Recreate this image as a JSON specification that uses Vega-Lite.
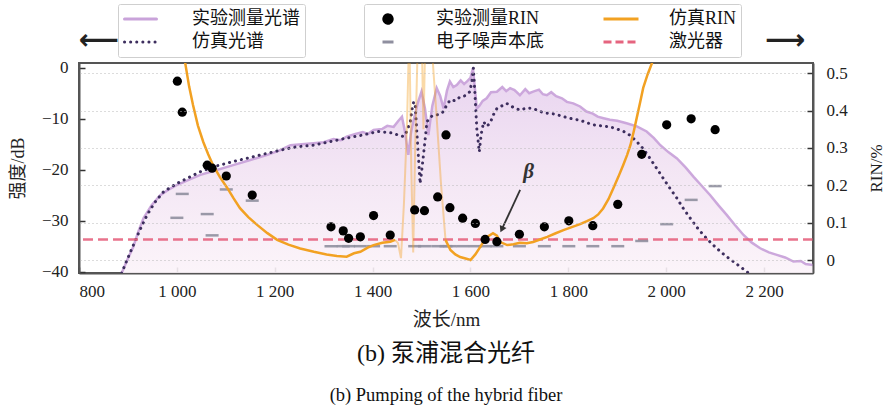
{
"$schema": "https://vega.github.io/schema/vega-lite/v6.json",
"width": 734, "height": 210,
"autosize": {"type": "none"},
"padding": {"left": 79, "top": 63, "right": 75, "bottom": 144},
"background": "white",
"config": {
  "font": "Liberation Serif, Noto Sans CJK SC",
  "view": {"stroke": "#555555", "strokeWidth": 2},
  "axis": {"labelFont": "Liberation Serif", "labelFontSize": 17, "labelColor": "#222", "titleFont": "Liberation Serif, Noto Sans CJK SC", "titleFontWeight": "normal", "titleColor": "#222", "domainColor": "#555", "domainWidth": 2, "tickColor": "#333", "tickWidth": 1.5, "tickSize": -6, "grid": false}
},
"title": {"text": "(b) 泵浦混合光纤", "subtitle": "(b) Pumping of the hybrid fiber", "orient": "bottom", "anchor": "middle", "font": "Liberation Serif, Noto Sans CJK SC", "fontSize": 24, "fontWeight": "normal", "color": "#111", "subtitleFont": "Liberation Serif", "subtitleFontSize": 18.5, "subtitleColor": "#111", "offset": 13, "subtitlePadding": 20},
"datasets": {
  "spec": [
    {"nm":887,"db":-40.3},{"nm":899,"db":-37.6},{"nm":911,"db":-35.1},{"nm":921,"db":-32.2},{"nm":932,"db":-29.5},{"nm":948,"db":-27.0},{"nm":966,"db":-25.0},{"nm":983,"db":-23.9},{"nm":1000,"db":-23.0},{"nm":1024,"db":-22.0},{"nm":1048,"db":-21.0},{"nm":1080,"db":-20.1},{"nm":1115,"db":-19.1},{"nm":1150,"db":-18.1},{"nm":1185,"db":-17.1},{"nm":1210,"db":-16.2},{"nm":1232,"db":-15.2},{"nm":1255,"db":-15.0},{"nm":1279,"db":-14.8},{"nm":1300,"db":-14.6},{"nm":1320,"db":-14.0},{"nm":1335,"db":-14.2},{"nm":1347,"db":-13.5},{"nm":1365,"db":-13.0},{"nm":1380,"db":-12.6},{"nm":1390,"db":-13.0},{"nm":1402,"db":-12.2},{"nm":1420,"db":-12.0},{"nm":1430,"db":-11.4},{"nm":1443,"db":-11.6},{"nm":1452,"db":-10.5},{"nm":1460,"db":-9.6},{"nm":1466,"db":-12.5},{"nm":1473,"db":-17.1},{"nm":1478,"db":-13.0},{"nm":1483,"db":-10.6},{"nm":1492,"db":-7.0},{"nm":1500,"db":-4.7},{"nm":1507,"db":-8.0},{"nm":1514,"db":-13.2},{"nm":1522,"db":-7.5},{"nm":1531,"db":-4.0},{"nm":1538,"db":-5.5},{"nm":1545,"db":-8.0},{"nm":1552,"db":-4.5},{"nm":1558,"db":-2.7},{"nm":1565,"db":-3.8},{"nm":1572,"db":-3.4},{"nm":1580,"db":-2.5},{"nm":1587,"db":-3.2},{"nm":1593,"db":-2.7},{"nm":1600,"db":-2.0},{"nm":1605,"db":-0.1},{"nm":1609,"db":-4.0},{"nm":1613,"db":-8.0},{"nm":1618,"db":-7.5},{"nm":1625,"db":-6.5},{"nm":1633,"db":-6.0},{"nm":1642,"db":-4.8},{"nm":1654,"db":-4.7},{"nm":1665,"db":-3.8},{"nm":1673,"db":-4.6},{"nm":1681,"db":-4.0},{"nm":1690,"db":-4.4},{"nm":1701,"db":-5.4},{"nm":1712,"db":-4.2},{"nm":1720,"db":-5.0},{"nm":1728,"db":-4.7},{"nm":1740,"db":-4.3},{"nm":1748,"db":-5.2},{"nm":1756,"db":-5.4},{"nm":1765,"db":-4.8},{"nm":1775,"db":-5.6},{"nm":1787,"db":-6.0},{"nm":1797,"db":-6.7},{"nm":1810,"db":-7.0},{"nm":1824,"db":-7.6},{"nm":1837,"db":-8.6},{"nm":1850,"db":-9.0},{"nm":1860,"db":-9.6},{"nm":1872,"db":-9.9},{"nm":1885,"db":-10.2},{"nm":1900,"db":-10.4},{"nm":1919,"db":-10.9},{"nm":1940,"db":-11.5},{"nm":1960,"db":-12.5},{"nm":1975,"db":-13.8},{"nm":1988,"db":-15.2},{"nm":2005,"db":-16.6},{"nm":2022,"db":-17.8},{"nm":2040,"db":-19.6},{"nm":2056,"db":-21.4},{"nm":2072,"db":-23.1},{"nm":2090,"db":-25.0},{"nm":2106,"db":-26.9},{"nm":2124,"db":-28.9},{"nm":2140,"db":-30.8},{"nm":2158,"db":-32.8},{"nm":2175,"db":-34.3},{"nm":2192,"db":-35.4},{"nm":2210,"db":-36.2},{"nm":2226,"db":-36.7},{"nm":2243,"db":-37.2},{"nm":2260,"db":-38.0},{"nm":2275,"db":-37.9},{"nm":2285,"db":-38.5},{"nm":2300,"db":-38.7}
  ],
  "sim": [
    {"nm":887,"db":-40.3},{"nm":899,"db":-37.5},{"nm":911,"db":-34.8},{"nm":925,"db":-31.7},{"nm":939,"db":-28.9},{"nm":955,"db":-26.4},{"nm":973,"db":-24.3},{"nm":1000,"db":-22.7},{"nm":1048,"db":-20.4},{"nm":1080,"db":-19.3},{"nm":1115,"db":-18.4},{"nm":1150,"db":-17.6},{"nm":1184,"db":-16.8},{"nm":1215,"db":-16.1},{"nm":1245,"db":-15.5},{"nm":1279,"db":-15.2},{"nm":1313,"db":-14.5},{"nm":1347,"db":-13.8},{"nm":1380,"db":-13.2},{"nm":1411,"db":-12.5},{"nm":1440,"db":-12.8},{"nm":1455,"db":-13.3},{"nm":1463,"db":-13.5},{"nm":1470,"db":-12.5},{"nm":1477,"db":-10.6},{"nm":1481,"db":-8.0},{"nm":1484,"db":-6.7},{"nm":1487,"db":-7.3},{"nm":1490,"db":-12.0},{"nm":1494,"db":-18.0},{"nm":1497,"db":-22.7},{"nm":1500,"db":-20.5},{"nm":1504,"db":-17.1},{"nm":1508,"db":-13.5},{"nm":1511,"db":-10.6},{"nm":1517,"db":-9.8},{"nm":1524,"db":-9.3},{"nm":1535,"db":-9.2},{"nm":1545,"db":-8.6},{"nm":1552,"db":-7.2},{"nm":1559,"db":-6.3},{"nm":1569,"db":-6.5},{"nm":1579,"db":-5.7},{"nm":1589,"db":-5.5},{"nm":1599,"db":-4.7},{"nm":1603,"db":-2.5},{"nm":1606,"db":-0.1},{"nm":1609,"db":-5.0},{"nm":1613,"db":-12.0},{"nm":1618,"db":-16.5},{"nm":1622,"db":-13.0},{"nm":1627,"db":-10.6},{"nm":1633,"db":-11.5},{"nm":1640,"db":-10.9},{"nm":1647,"db":-9.2},{"nm":1654,"db":-8.0},{"nm":1664,"db":-7.5},{"nm":1674,"db":-7.0},{"nm":1688,"db":-7.8},{"nm":1701,"db":-8.3},{"nm":1715,"db":-7.9},{"nm":1729,"db":-8.0},{"nm":1742,"db":-8.6},{"nm":1756,"db":-8.9},{"nm":1773,"db":-9.1},{"nm":1790,"db":-9.6},{"nm":1807,"db":-10.0},{"nm":1824,"db":-10.3},{"nm":1838,"db":-10.8},{"nm":1851,"db":-11.2},{"nm":1868,"db":-11.4},{"nm":1885,"db":-11.6},{"nm":1899,"db":-12.0},{"nm":1913,"db":-12.5},{"nm":1927,"db":-13.3},{"nm":1940,"db":-14.5},{"nm":1954,"db":-16.0},{"nm":1967,"db":-17.8},{"nm":1981,"db":-19.8},{"nm":1994,"db":-21.7},{"nm":2008,"db":-23.7},{"nm":2022,"db":-25.6},{"nm":2035,"db":-27.6},{"nm":2049,"db":-29.5},{"nm":2062,"db":-31.2},{"nm":2076,"db":-32.8},{"nm":2090,"db":-34.2},{"nm":2103,"db":-35.4},{"nm":2120,"db":-36.8},{"nm":2137,"db":-38.0},{"nm":2151,"db":-39.0},{"nm":2165,"db":-40.0},{"nm":2170,"db":-40.4}
  ],
  "rin": [
    {"nm":1001,"rin":0.479},{"nm":1011,"rin":0.396},{"nm":1062,"rin":0.254},{"nm":1072,"rin":0.246},{"nm":1101,"rin":0.225},{"nm":1154,"rin":0.174},{"nm":1315,"rin":0.089},{"nm":1340,"rin":0.078},{"nm":1351,"rin":0.058},{"nm":1375,"rin":0.062},{"nm":1402,"rin":0.119},{"nm":1436,"rin":0.067},{"nm":1486,"rin":0.134},{"nm":1506,"rin":0.132},{"nm":1533,"rin":0.169},{"nm":1550,"rin":0.335},{"nm":1558,"rin":0.140},{"nm":1584,"rin":0.112},{"nm":1610,"rin":0.098},{"nm":1630,"rin":0.055},{"nm":1654,"rin":0.049},{"nm":1700,"rin":0.069},{"nm":1751,"rin":0.089},{"nm":1801,"rin":0.105},{"nm":1850,"rin":0.092},{"nm":1901,"rin":0.149},{"nm":1950,"rin":0.283},{"nm":2001,"rin":0.362},{"nm":2051,"rin":0.378},{"nm":2100,"rin":0.349}
  ],
  "noise": [
    {"nm":1000,"rin":0.113},{"nm":1011,"rin":0.177},{"nm":1062,"rin":0.123},{"nm":1072,"rin":0.066},{"nm":1101,"rin":0.189},{"nm":1154,"rin":0.159},{"nm":1315,"rin":0.037},{"nm":1340,"rin":0.037},{"nm":1351,"rin":0.037},{"nm":1375,"rin":0.037},{"nm":1402,"rin":0.037},{"nm":1436,"rin":0.037},{"nm":1486,"rin":0.037},{"nm":1506,"rin":0.037},{"nm":1533,"rin":0.037},{"nm":1550,"rin":0.037},{"nm":1558,"rin":0.037},{"nm":1584,"rin":0.037},{"nm":1610,"rin":0.037},{"nm":1630,"rin":0.037},{"nm":1654,"rin":0.037},{"nm":1700,"rin":0.037},{"nm":1751,"rin":0.037},{"nm":1801,"rin":0.037},{"nm":1850,"rin":0.037},{"nm":1901,"rin":0.037},{"nm":1950,"rin":0.051},{"nm":2001,"rin":0.096},{"nm":2051,"rin":0.161},{"nm":2100,"rin":0.198}
  ],
  "simrinA": [
    {"nm":1008,"rin":0.62},{"nm":1017,"rin":0.528},{"nm":1025,"rin":0.465},{"nm":1033,"rin":0.415},{"nm":1043,"rin":0.36},{"nm":1054,"rin":0.316},{"nm":1064,"rin":0.283},{"nm":1074,"rin":0.254},{"nm":1088,"rin":0.222},{"nm":1103,"rin":0.193},{"nm":1116,"rin":0.165},{"nm":1129,"rin":0.139},{"nm":1146,"rin":0.115},{"nm":1164,"rin":0.094},{"nm":1185,"rin":0.072},{"nm":1205,"rin":0.054},{"nm":1228,"rin":0.041},{"nm":1252,"rin":0.031},{"nm":1280,"rin":0.022},{"nm":1306,"rin":0.015},{"nm":1327,"rin":0.011},{"nm":1347,"rin":0.009},{"nm":1362,"rin":0.018},{"nm":1375,"rin":0.022},{"nm":1390,"rin":0.033},{"nm":1402,"rin":0.040},{"nm":1420,"rin":0.046},{"nm":1436,"rin":0.049},{"nm":1446,"rin":0.054}
  ],
  "simrinS": [
    {"nm":1446,"rin":0.054},{"nm":1452,"rin":0.045},{"nm":1458,"rin":0.005},{"nm":1464,"rin":0.15},{"nm":1470,"rin":0.35},{"nm":1475,"rin":0.62},{"nm":1479,"rin":0.25},{"nm":1483,"rin":0.02},{"nm":1487,"rin":0.3},{"nm":1493,"rin":0.62},{"nm":1500,"rin":0.62},{"nm":1504,"rin":0.35},{"nm":1508,"rin":0.62},{"nm":1515,"rin":0.62},{"nm":1522,"rin":0.55},{"nm":1530,"rin":0.4},{"nm":1540,"rin":0.2},{"nm":1549,"rin":0.054}
  ],
  "simrinB": [
    {"nm":1549,"rin":0.054},{"nm":1559,"rin":0.027},{"nm":1569,"rin":0.015},{"nm":1579,"rin":0.008},{"nm":1590,"rin":0.004},{"nm":1600,"rin":0.0},{"nm":1610,"rin":0.015},{"nm":1620,"rin":0.035},{"nm":1627,"rin":0.05},{"nm":1634,"rin":0.062},{"nm":1646,"rin":0.072},{"nm":1654,"rin":0.065},{"nm":1661,"rin":0.048},{"nm":1675,"rin":0.040},{"nm":1688,"rin":0.042},{"nm":1701,"rin":0.046},{"nm":1715,"rin":0.045},{"nm":1728,"rin":0.048},{"nm":1742,"rin":0.055},{"nm":1757,"rin":0.062},{"nm":1773,"rin":0.071},{"nm":1790,"rin":0.080},{"nm":1807,"rin":0.088},{"nm":1824,"rin":0.096},{"nm":1838,"rin":0.104},{"nm":1851,"rin":0.112},{"nm":1861,"rin":0.122},{"nm":1871,"rin":0.138},{"nm":1882,"rin":0.163},{"nm":1892,"rin":0.192},{"nm":1902,"rin":0.222},{"nm":1912,"rin":0.254},{"nm":1920,"rin":0.281},{"nm":1927,"rin":0.308},{"nm":1934,"rin":0.346},{"nm":1941,"rin":0.388},{"nm":1947,"rin":0.424},{"nm":1953,"rin":0.461},{"nm":1962,"rin":0.497},{"nm":1972,"rin":0.531},{"nm":1980,"rin":0.58}
  ],
  "laser": [{"rin": 0.055}],
  "beta": [{"nm": 1719, "rin": 0.236, "t": "β"}],
  "arrow": [{"nm": 1701.5, "rin": 0.1875, "nm2": 1664, "rin2": 0.082}],
  "arrowL": [{"nm": 841, "db": 5.3, "t": "⟵"}],
  "arrowR": [{"nm": 2243, "rin": 0.586, "t": "⟶"}]
},
"layer": [
  {"layer": [
    {"data": {"name": "spec"},
     "mark": {"type": "area", "clip": true, "opacity": 0.9, "fill": {"x1": 0, "y1": 0, "x2": 0, "y2": 1, "gradient": "linear", "stops": [{"offset": 0, "color": "#e6cfee"}, {"offset": 0.5, "color": "#f2e3f3"}, {"offset": 1, "color": "#fbf3f9"}]}},
     "encoding": {
       "x": {"field": "nm", "type": "quantitative", "scale": {"domain": [800, 2300], "nice": false, "zero": false},
             "axis": {"values": [800, 1000, 1200, 1400, 1600, 1800, 2000, 2200], "labelExpr": "replace(format(datum.value, ','), ',', ' ')", "labelPadding": 16, "title": "波长/nm", "titleFontSize": 19, "titlePadding": 11}},
       "y": {"field": "db", "type": "quantitative", "scale": {"domain": [-40.25, 0.92], "nice": false, "zero": false},
             "axis": {"orient": "left", "values": [-40, -30, -20, -10, 0], "labelPadding": 17, "title": "强度/dB", "titleFontSize": 18, "titlePadding": 14}},
       "y2": {"datum": -40.25}
     }},
    {"data": {"name": "spec"},
     "mark": {"type": "line", "strokeWidth": 2.5, "clip": true, "opacity": 0.95},
     "encoding": {
       "x": {"field": "nm", "type": "quantitative"},
       "y": {"field": "db", "type": "quantitative"},
       "color": {"datum": "实验测量光谱", "type": "nominal",
         "scale": {"domain": ["实验测量光谱", "仿真光谱"], "range": ["#c9a3da", "#3d2e5e"]},
         "legend": {"title": null, "orient": "none", "legendX": 39, "legendY": -59, "direction": "vertical",
           "symbolSize": 1024, "clipHeight": 20, "rowPadding": 3, "padding": 5, "labelOffset": 34,
           "labelExpr": "datum.label + '\u2003\u2003\u2002'",
           "labelFont": "Liberation Serif, Noto Sans CJK SC", "labelFontSize": 18, "labelColor": "#111",
           "strokeColor": "#cfcfcf", "fillColor": "white", "cornerRadius": 2,
           "encoding": {"symbols": {
             "shape": {"value": "stroke"},
             "strokeWidth": {"value": 3},
             "stroke": {"value": {"expr": "datum.value === '仿真光谱' ? '#3d2e5e' : '#c9a3da'"}},
             "strokeDash": {"value": {"expr": "datum.value === '仿真光谱' ? [0.1, 6] : [1, 0]"}},
             "strokeCap": {"value": "round"},
             "size": {"value": 1024},
             "opacity": {"value": 1}
           }}}}
     }},
    {"data": {"name": "sim"},
     "mark": {"type": "line", "strokeWidth": 3, "strokeDash": [0.1, 6], "strokeCap": "round", "clip": true},
     "encoding": {
       "x": {"field": "nm", "type": "quantitative"},
       "y": {"field": "db", "type": "quantitative"},
       "color": {"datum": "仿真光谱", "type": "nominal"}
     }},
    {"data": {"name": "arrowL"},
     "mark": {"type": "text", "font": "DejaVu Sans", "fontSize": 28, "fontWeight": "bold", "color": "#222"},
     "encoding": {
       "x": {"field": "nm", "type": "quantitative"},
       "y": {"field": "db", "type": "quantitative"},
       "text": {"field": "t"}
     }}
  ]},
  {"layer": [
    {"data": {"name": "laser"},
     "mark": {"type": "rule", "strokeWidth": 2.5, "strokeDash": [10, 5], "opacity": 0.9},
     "encoding": {
       "y": {"field": "rin", "type": "quantitative", "scale": {"domain": [-0.0348, 0.5276], "nice": false, "zero": false},
             "axis": {"orient": "right", "values": [0, 0.1, 0.2, 0.3, 0.4, 0.5], "format": "~g", "labelPadding": 19, "title": "RIN/%", "titleAngle": -90, "titleFontSize": 17, "titlePadding": 38, "grid": true, "gridDash": [1, 3], "gridColor": "#b8b8b8", "gridWidth": 1, "zindex": 1}},
       "color": {"datum": "激光器", "type": "nominal",
         "scale": {"domain": ["实验测量RIN", "电子噪声本底", "仿真RIN", "激光器"], "range": ["#000000", "#8f8f9f", "#f2a122", "#e5647f"]},
         "legend": {"title": null, "orient": "none", "legendX": 285, "legendY": -59, "columns": 2, "columnPadding": 58,
           "symbolSize": 1024, "clipHeight": 20, "rowPadding": 3, "padding": 5, "labelOffset": 29,
           "labelExpr": "datum.label === '仿真RIN' || datum.label === '激光器' ? datum.label + '\u2003\u2002' : datum.label",
           "labelFont": "Liberation Serif, Noto Sans CJK SC", "labelFontSize": 18, "labelColor": "#111",
           "strokeColor": "#cfcfcf", "fillColor": "white", "cornerRadius": 2,
           "encoding": {"symbols": {
             "shape": {"value": {"expr": "datum.value === '实验测量RIN' ? 'circle' : 'stroke'"}},
             "size": {"value": {"expr": "datum.value === '实验测量RIN' ? 70 : datum.value === '电子噪声本底' ? 121 : 1225"}},
             "fill": {"value": {"expr": "datum.value === '实验测量RIN' ? '#000000' : 'transparent'"}},
             "stroke": {"value": {"expr": "datum.value === '实验测量RIN' ? 'transparent' : datum.value === '电子噪声本底' ? '#8f8f9f' : datum.value === '仿真RIN' ? '#f2a122' : '#e5647f'"}},
             "strokeWidth": {"value": 3},
             "strokeDash": {"value": {"expr": "datum.value === '激光器' ? [8, 4] : [1, 0]"}},
             "opacity": {"value": 1}
           }}}}
     }},
    {"data": {"name": "noise"},
     "mark": {"type": "tick", "orient": "horizontal", "size": 13, "thickness": 2.5, "opacity": 0.9},
     "encoding": {
       "x": {"field": "nm", "type": "quantitative"},
       "y": {"field": "rin", "type": "quantitative"},
       "color": {"datum": "电子噪声本底", "type": "nominal"}
     }},
    {"data": {"name": "simrinS"},
     "mark": {"type": "line", "strokeWidth": 2, "clip": true, "opacity": 0.4},
     "encoding": {
       "x": {"field": "nm", "type": "quantitative"},
       "y": {"field": "rin", "type": "quantitative"},
       "color": {"datum": "仿真RIN", "type": "nominal"}
     }},
    {"data": {"name": "simrinA"},
     "mark": {"type": "line", "strokeWidth": 2.5, "clip": true},
     "encoding": {
       "x": {"field": "nm", "type": "quantitative"},
       "y": {"field": "rin", "type": "quantitative"},
       "color": {"datum": "仿真RIN", "type": "nominal"}
     }},
    {"data": {"name": "simrinB"},
     "mark": {"type": "line", "strokeWidth": 2.5, "clip": true},
     "encoding": {
       "x": {"field": "nm", "type": "quantitative"},
       "y": {"field": "rin", "type": "quantitative"},
       "color": {"datum": "仿真RIN", "type": "nominal"}
     }},
    {"data": {"name": "rin"},
     "mark": {"type": "point", "filled": true, "size": 85, "opacity": 1},
     "encoding": {
       "x": {"field": "nm", "type": "quantitative"},
       "y": {"field": "rin", "type": "quantitative"},
       "color": {"datum": "实验测量RIN", "type": "nominal"}
     }},
    {"data": {"name": "arrow"},
     "mark": {"type": "rule", "color": "#333333", "strokeWidth": 1.8},
     "encoding": {
       "x": {"field": "nm", "type": "quantitative"},
       "y": {"field": "rin", "type": "quantitative"},
       "x2": {"field": "nm2"},
       "y2": {"field": "rin2"}
     }},
    {"data": {"name": "arrow"},
     "mark": {"type": "point", "shape": "triangle-up", "angle": 205, "filled": true, "color": "#333333", "size": 55, "opacity": 1},
     "encoding": {
       "x": {"field": "nm2", "type": "quantitative"},
       "y": {"field": "rin2", "type": "quantitative"}
     }},
    {"data": {"name": "beta"},
     "mark": {"type": "text", "font": "Liberation Serif", "fontSize": 21, "fontStyle": "italic", "fontWeight": "bold", "color": "#333333"},
     "encoding": {
       "x": {"field": "nm", "type": "quantitative"},
       "y": {"field": "rin", "type": "quantitative"},
       "text": {"field": "t"}
     }},
    {"data": {"name": "arrowR"},
     "mark": {"type": "text", "font": "DejaVu Sans", "fontSize": 28, "fontWeight": "bold", "color": "#222"},
     "encoding": {
       "x": {"field": "nm", "type": "quantitative"},
       "y": {"field": "rin", "type": "quantitative"},
       "text": {"field": "t"}
     }}
  ]}
],
"resolve": {"scale": {"y": "independent", "color": "independent"}}
}
